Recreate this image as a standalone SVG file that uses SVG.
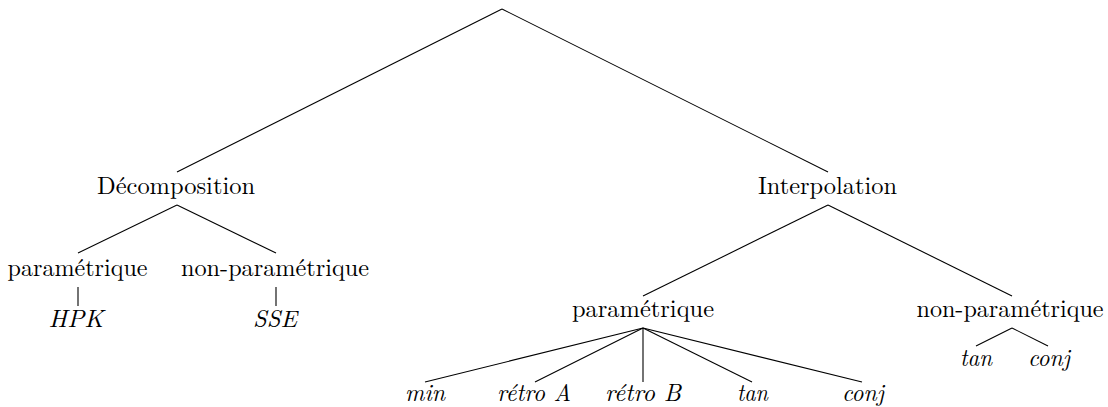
<svg xmlns="http://www.w3.org/2000/svg" width="1108" height="407" viewBox="0 0 1108 407">
<style>
text{font-size:24px;fill:#000;text-anchor:middle}
.i{font-style:italic}
.c line{stroke:#000;stroke-width:1.1;fill:none}
</style>
<rect width="1108" height="407" fill="#fff"/>
<g class="c" id="connectors">
<line x1="502" y1="9" x2="177" y2="172"/>
<line x1="502" y1="9" x2="828" y2="172"/>
<line x1="177" y1="205" x2="78" y2="253"/>
<line x1="177" y1="205" x2="276" y2="253"/>
<line x1="78" y1="287" x2="78" y2="306"/>
<line x1="276" y1="287" x2="276" y2="306"/>
<line x1="828" y1="205" x2="643" y2="296"/>
<line x1="828" y1="205" x2="1012" y2="296"/>
<line x1="643" y1="328" x2="425" y2="382"/>
<line x1="643" y1="328" x2="535" y2="382"/>
<line x1="643" y1="328" x2="643" y2="382"/>
<line x1="643" y1="328" x2="752" y2="382"/>
<line x1="643" y1="328" x2="862" y2="382"/>
<line x1="1012" y1="328" x2="976" y2="346"/>
<line x1="1012" y1="328" x2="1048" y2="346"/>
</g>
<g font-family="Latin Modern Roman, Liberation Serif, serif">
<g id="n-decomp"><text x="176" y="194" textLength="158" lengthAdjust="spacingAndGlyphs">Décomposition</text></g>
<g id="n-interp"><text x="827.5" y="194" textLength="139" lengthAdjust="spacingAndGlyphs">Interpolation</text></g>
<g id="n-d-param"><text x="77.5" y="276" textLength="140" lengthAdjust="spacingAndGlyphs">paramétrique</text></g>
<g id="n-d-nonparam"><text x="275" y="276" textLength="188" lengthAdjust="spacingAndGlyphs">non-paramétrique</text></g>
<g id="n-hpk"><text class="i" x="76" y="327" textLength="55" lengthAdjust="spacingAndGlyphs">HPK</text></g>
<g id="n-sse"><text class="i" x="275" y="327" textLength="44" lengthAdjust="spacingAndGlyphs">SSE</text></g>
<g id="n-i-param"><text x="643" y="317" textLength="142" lengthAdjust="spacingAndGlyphs">paramétrique</text></g>
<g id="n-i-nonparam"><text x="1010" y="317" textLength="187" lengthAdjust="spacingAndGlyphs">non-paramétrique</text></g>
<g id="n-min"><text class="i" x="425" y="401" textLength="40" lengthAdjust="spacingAndGlyphs">min</text></g>
<g id="n-retroA"><text class="i" x="534" y="401" textLength="74" lengthAdjust="spacingAndGlyphs">rétro A</text></g>
<g id="n-retroB"><text class="i" x="643" y="401" textLength="76" lengthAdjust="spacingAndGlyphs">rétro B</text></g>
<g id="n-tan1"><text class="i" x="752.5" y="401" textLength="31" lengthAdjust="spacingAndGlyphs">tan</text></g>
<g id="n-conj1"><text class="i" x="863" y="401" textLength="42" lengthAdjust="spacingAndGlyphs">conj</text></g>
<g id="n-tan2"><text class="i" x="976" y="366" textLength="32" lengthAdjust="spacingAndGlyphs">tan</text></g>
<g id="n-conj2"><text class="i" x="1049" y="366" textLength="42" lengthAdjust="spacingAndGlyphs">conj</text></g>
</g>
</svg>
